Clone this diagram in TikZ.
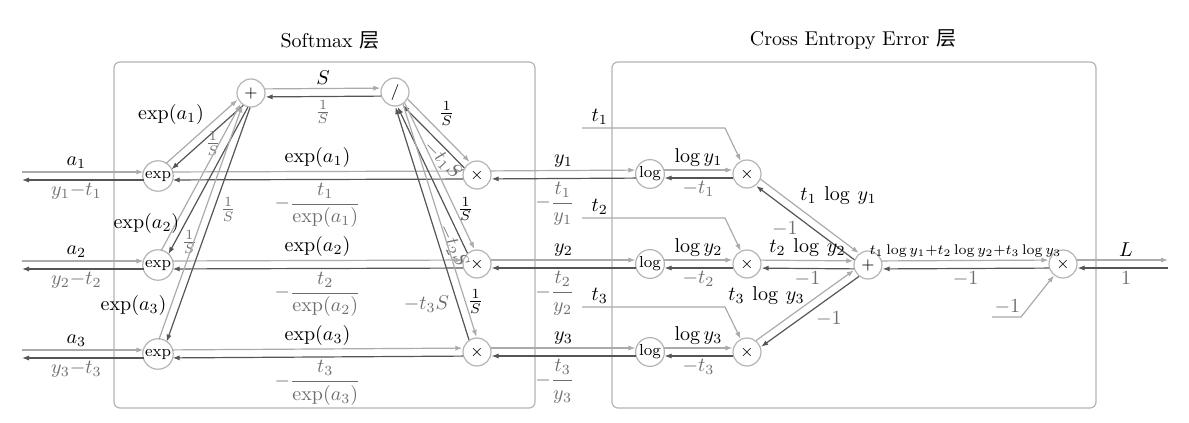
\documentclass[tikz,border=0pt]{standalone}
\usepackage{fontspec}
\usepackage{amsmath}
\newfontfamily\cjk{Noto Sans CJK SC}
\usetikzlibrary{arrows.meta,positioning,calc}
\definecolor{FwdGray}{HTML}{ABABAB}
\definecolor{BwdGray}{HTML}{555555}
\definecolor{GradText}{HTML}{6E6E6E}
\definecolor{FrameGray}{HTML}{B4B4B4}

\newcommand{\lanegap}{2pt}
% forward lane left of a->b, backward lane left of b->a
\newcommand{\fwdbwd}[4]{%
  \draw[fwd] ($(#1)!\lanegap!90:(#2)$) -- ($(#2)!\lanegap!-90:(#1)$) #3;
  \draw[bwd] ($(#2)!\lanegap!90:(#1)$) -- ($(#1)!\lanegap!-90:(#2)$) #4;}

\begin{document}
\begin{tikzpicture}[x=0.5pt,y=-0.5pt,
    op/.style={circle,draw=FrameGray,line width=0.6pt,minimum size=14pt,inner sep=0.5pt,font=\footnotesize},
    fwd/.style={FwdGray,line width=0.6pt,shorten <=7pt,shorten >=7.3pt,-{Latex[length=3.5pt,width=2.6pt]}},
    bwd/.style={BwdGray,line width=0.6pt,shorten <=7pt,shorten >=7.3pt,-{Latex[length=3.5pt,width=2.6pt]}},
    val/.style={text=black,inner sep=1.5pt},
    grad/.style={text=GradText,inner sep=1.5pt},
    layer/.style={draw=FrameGray,line width=0.6pt,rounded corners=3pt},
  ]
  \useasboundingbox (0,0) rectangle (1189,423);

  % layers
  \draw[layer] (114,62) rectangle (535,408);
  \draw[layer] (612,62) rectangle (1096,408);
  \node (smtitle) at (330,40) {Softmax {\cjk 层}};
  \node (cetitle) at (853,40) {Cross Entropy Error {\cjk 层}};

  % softmax nodes
  \node[op] (plus) at (251,93) {$+$};
  \node[op] (div) at (395,92) {$/$};
  \foreach \k/\y in {1/176,2/265,3/354}{
    \node[op] (exp\k) at (158,\y) {exp};
    \coordinate (a\k) at (22,\y);
  }
  \foreach \k/\y in {1/175,2/264,3/352}{
    \node[op] (mul\k) at (477,\y) {$\times$};
  }
  % cross entropy nodes
  \foreach \k/\y/\ty in {1/174/128,2/264/218,3/352/307}{
    \node[op] (log\k) at (650,\y) {log};
    \node[op] (tmul\k) at (747,\y) {$\times$};
    \coordinate (t\k) at (582,\ty);
  }
  \node[op] (sum) at (868,265) {$+$};
  \node[op] (neg) at (1063,264) {$\times$};
  \coordinate (m1) at (992,317);
  \coordinate (out) at (1168,264);

  % inputs a_k
  \foreach \k in {1,2,3}{
    \draw[fwd,shorten <=0pt] ($(a\k)!\lanegap!90:(exp\k)$) -- ($(exp\k)!\lanegap!-90:(a\k)$)
      node[val,pos=0.4,above]{$a_\k$};
    \draw[bwd,shorten >=0pt] ($(exp\k)!\lanegap!90:(a\k)$) -- ($(a\k)!\lanegap!-90:(exp\k)$)
      node[grad,pos=0.6,below]{$y_\k{-}t_\k$};
  }

  % exp -> x
  \foreach \k in {1,2,3}{
    \fwdbwd{exp\k}{mul\k}{node[val,midway,above]{$\exp(a_\k)$}}{node[grad,midway,below]{$-\dfrac{t_\k}{\exp(a_\k)}$}}
  }

  % exp -> +
  \fwdbwd{exp1}{plus}{node[val,pos=0.55,anchor=south east,inner sep=1pt]{$\exp(a_1)$}}{node[grad,pos=0.57,anchor=west,inner sep=2pt]{$\frac{1}{S}$}}
  \fwdbwd{exp2}{plus}{node[val,pos=0.23,anchor=east,inner sep=1pt,xshift=3pt]{$\exp(a_2)$}}{node[grad,pos=0.855,anchor=west,inner sep=3pt]{$\frac{1}{S}$}}
  \fwdbwd{exp3}{plus}{node[val,pos=0.18,anchor=east,inner sep=2pt]{$\exp(a_3)$}}{node[grad,pos=0.44,anchor=west,inner sep=3pt]{$\frac{1}{S}$}}

  % + -> /
  \fwdbwd{plus}{div}{node[val,midway,above]{$S$}}{node[grad,midway,below]{$\frac{1}{S}$}}

  % / -> x
  \fwdbwd{div}{mul1}{node[val,pos=0.47,anchor=south west,inner sep=1pt]{$\frac{1}{S}$}}{node[grad,pos=0.3,sloped,below,inner sep=0.5pt]{$-t_1S$}}
  \fwdbwd{div}{mul2}{node[val,pos=0.69,anchor=west,inner sep=1pt]{$\frac{1}{S}$}}{node[grad,pos=0.14,sloped,below,inner sep=0.5pt]{$-t_2S$}}
  \fwdbwd{div}{mul3}{node[val,pos=0.81,anchor=west,inner sep=1pt]{$\frac{1}{S}$}}{node[grad,pos=0.19,anchor=east,inner sep=4pt]{$-t_3S$}}

  % x -> log -> x
  \foreach \k in {1,2,3}{
    \fwdbwd{mul\k}{log\k}{node[val,midway,above]{$y_\k$}}{node[grad,pos=0.55,below]{$-\dfrac{t_\k}{y_\k}$}}
    \fwdbwd{log\k}{tmul\k}{node[val,midway,above]{$\log y_\k$}}{node[grad,midway,below]{$-t_\k$}}
    \draw[fwd,shorten <=0pt,shorten >=0pt] (t\k) node[val,above right,xshift=3pt]{$t_\k$} -- ++(143,0) -- (tmul\k);
  }

  % x -> +
  \fwdbwd{tmul1}{sum}{node[val,pos=0.4,above right,inner sep=1pt]{$t_1\:\log\:y_1$}}{node[grad,pos=0.54,below left,inner sep=1pt]{$-1$}}
  \fwdbwd{tmul2}{sum}{node[val,midway,above]{$t_2\:\log\:y_2$}}{node[grad,midway,below]{$-1$}}
  \fwdbwd{tmul3}{sum}{node[val,pos=0.5,above left,inner sep=0pt]{$t_3\:\log\:y_3$}}{node[grad,pos=0.47,below right,inner sep=1pt]{$-1$}}

  % + -> x(-1) -> L
  \fwdbwd{sum}{neg}{node[val,midway,above,font=\scriptsize]{$t_1\log y_1{+}t_2\log y_2{+}t_3\log y_3$}}{node[grad,midway,below]{$-1$}}
  \draw[fwd,shorten <=0pt,shorten >=0pt] (m1) node[grad,above right,inner sep=1pt]{$-1$} -- ++(29,0) -- (neg);
  \draw[fwd,shorten >=0pt] ($(neg)!\lanegap!90:(out)$) -- ($(out)!\lanegap!-90:(neg)$)
    node[val,pos=0.6,above]{$L$};
  \draw[bwd,shorten <=0pt] ($(out)!\lanegap!90:(neg)$) -- ($(neg)!\lanegap!-90:(out)$)
    node[grad,pos=0.4,below]{$1$};
\end{tikzpicture}
\end{document}
